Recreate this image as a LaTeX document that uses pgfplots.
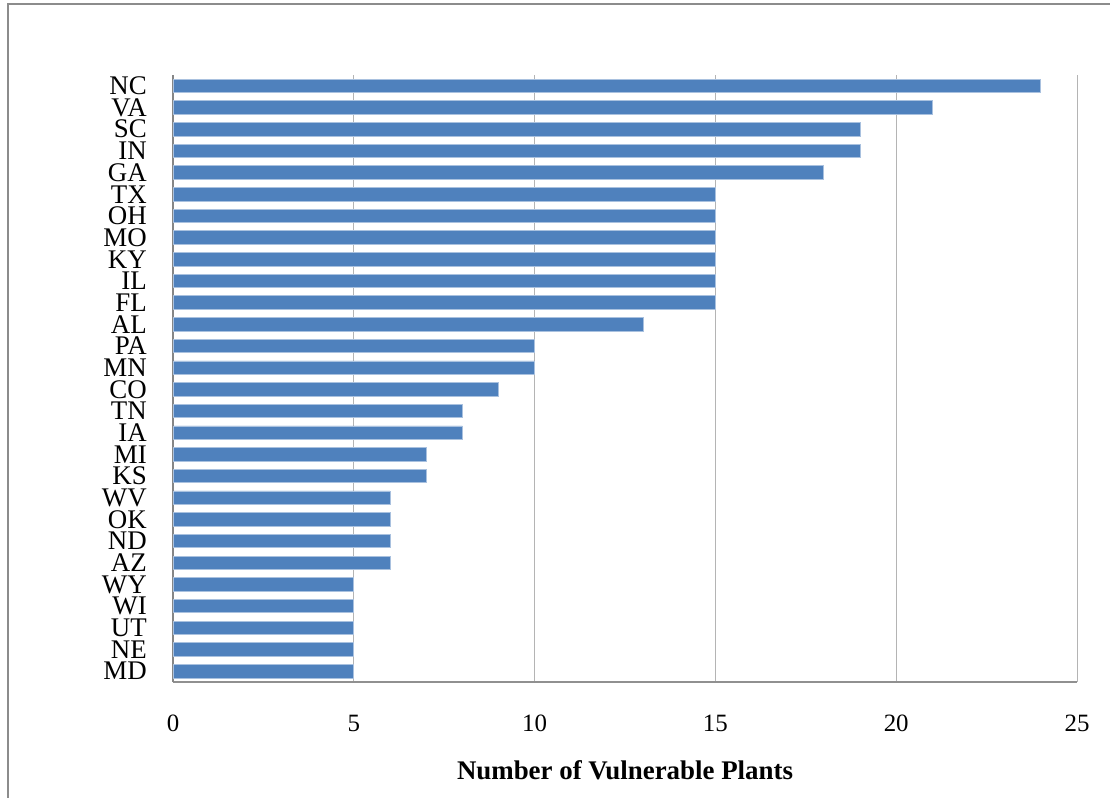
\documentclass[border=0pt]{standalone}
\usepackage{fontspec}
\setmainfont{Liberation Serif}
\usepackage{pgfplots}
\pgfplotsset{compat=1.18}
\definecolor{barblue}{HTML}{4F81BD}
\definecolor{baredge}{HTML}{A9C1DF}
\definecolor{gridgray}{HTML}{B4B4B4}
\definecolor{axisgray}{HTML}{868686}
\definecolor{framegray}{HTML}{8C8C8C}

\begin{document}
\begin{tikzpicture}[x=1bp,y=1bp]
\path[use as bounding box] (0,0) rectangle (1110,-798);
\begin{scope}
\clip (0,0) rectangle (1110,-798);
\draw[framegray, line width=2bp] (8,-1000) -- (8,-4) -- (1200,-4);
\end{scope}

\begin{axis}[%
at={(173bp,-682bp)},
anchor=south west,
width=904bp,
height=607bp,
scale only axis,
xbar,
bar width=13.5bp,
xmin=0,
xmax=25,
xtick={0,5,10,15,20,25},
ymin=-0.5,
ymax=27.5,
ytick={0,...,27},
yticklabels={MD,NE,UT,WI,WY,AZ,ND,OK,WV,KS,MI,IA,TN,CO,MN,PA,AL,FL,IL,KY,MO,OH,TX,GA,IN,SC,VA,NC},
axis x line*=bottom,
axis y line*=left,
x axis line style={draw=gridgray!80!black, line width=1.2bp},
y axis line style={draw=axisgray, line width=2bp},
major tick length=0pt,
xmajorgrids=true,
major grid style={draw=gridgray, line width=1bp},
/pgf/number format/assume math mode=true,
tick label style={font=\fontsize{25}{25}\selectfont, inner sep=0pt},
y tick label style={font=\fontsize{27}{27}\selectfont, anchor=east, xshift=-26bp},
x tick label style={anchor=north, yshift=-33bp},
xlabel={\textbf{Number of Vulnerable Plants}},
xlabel style={font=\fontsize{27}{27}\selectfont, at={(axis description cs:0.5,0)}, anchor=center, inner sep=0pt, yshift=-88bp},
clip=false
]
\addplot [fill=barblue, draw=baredge, line width=0.8bp]
table[row sep=crcr]{
5 0\\
5 1\\
5 2\\
5 3\\
5 4\\
6 5\\
6 6\\
6 7\\
6 8\\
7 9\\
7 10\\
8 11\\
8 12\\
9 13\\
10 14\\
10 15\\
13 16\\
15 17\\
15 18\\
15 19\\
15 20\\
15 21\\
15 22\\
18 23\\
19 24\\
19 25\\
21 26\\
24 27\\
};
\end{axis}
\end{tikzpicture}
\end{document}
